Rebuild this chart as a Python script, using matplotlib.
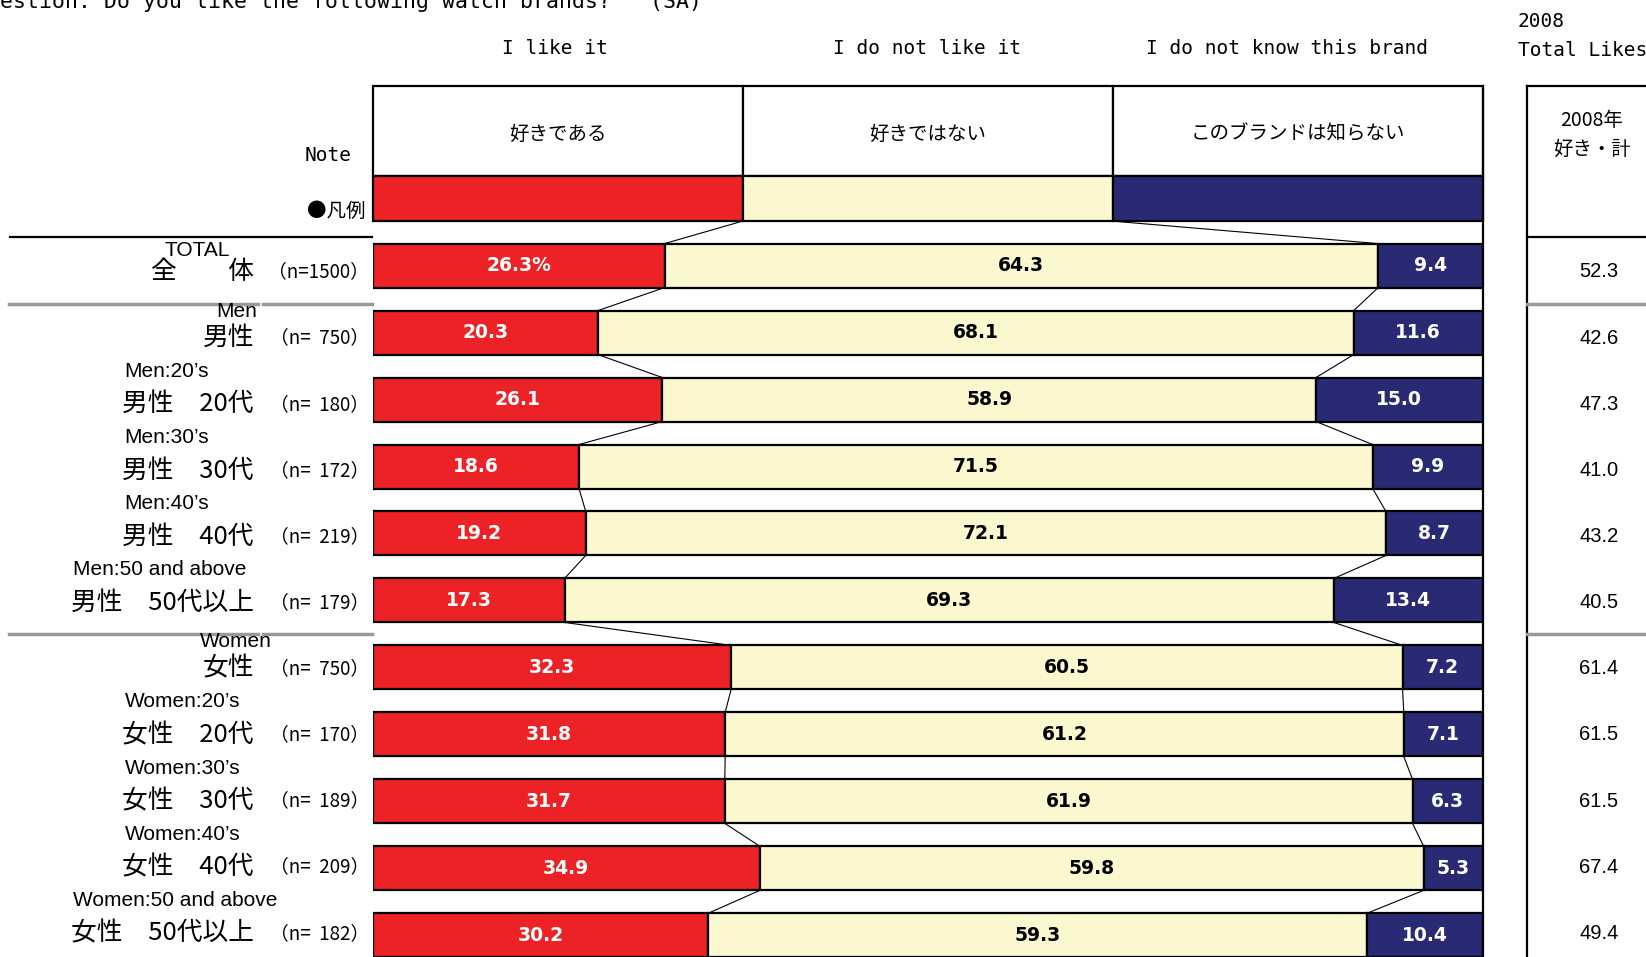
import matplotlib
matplotlib.use("Agg")
from matplotlib import pyplot as plt
import numpy as np

# ---- data ----
groups_en = ["TOTAL", "Men", "Men:20’s", "Men:30’s", "Men:40’s", "Men:50 and above",
             "Women", "Women:20’s", "Women:30’s", "Women:40’s", "Women:50 and above"]
groups_jp = ["全　　体", "男性", "男性　20代", "男性　30代", "男性　40代", "男性　50代以上",
             "女性", "女性　20代", "女性　30代", "女性　40代", "女性　50代以上"]
n_resp = [1500, 750, 180, 172, 219, 179, 750, 170, 189, 209, 182]
like = [26.3, 20.3, 26.1, 18.6, 19.2, 17.3, 32.3, 31.8, 31.7, 34.9, 30.2]
dislike = [64.3, 68.1, 58.9, 71.5, 72.1, 69.3, 60.5, 61.2, 61.9, 59.8, 59.3]
unknown = [9.4, 11.6, 15.0, 9.9, 8.7, 13.4, 7.2, 7.1, 6.3, 5.3, 10.4]
likes_2008 = [52.3, 42.6, 47.3, 41.0, 43.2, 40.5, 61.4, 61.5, 61.5, 67.4, 49.4]
answers_en = ["I like it", "I do not like it", "I do not know this brand"]
answers_jp = ["好きである", "好きではない", "このブランドは知らない"]

colors = ["#ED2226", "#FBF8D0", "#292A73"]
txt_colors = ["white", "black", "white"]
JP = ["Noto Sans CJK JP", "DejaVu Sans"]
EN = ["Liberation Sans", "DejaVu Sans"]
MONO = ["DejaVu Sans Mono"]

# ---- layout (pixels of the 1646x957 picture) ----
W, H = 1646, 957
ROW0, STEP = 265.6, 66.97      # bar rows
LAB0, LSTEP = 272.0, 66.13     # text rows on the left / right table


def r(py):
    return (py - ROW0) / STEP


def lab_y(i, dy=0):
    return r(LAB0 + i * LSTEP + dy)


BAR_H = 44 / STEP
LEG_H = 45 / STEP

fig = plt.figure(figsize=(W / 100, H / 100), dpi=100)
ax = fig.add_axes([372.6 / W, 0, (1482.5 - 372.6) / W, 1])
ax.set_xlim(0, 100)
ax.set_ylim(r(H), r(0))
ax.axis("off")
lab = fig.add_axes([0, 0, 1, 1])
lab.set_xlim(0, W)
lab.set_ylim(r(H), r(0))
lab.axis("off")

n = len(groups_en)
rows = np.arange(n)
vals = np.array([like, dislike, unknown])
shares = vals / vals.sum(axis=0) * 100
ends = np.cumsum(shares, axis=0)
lefts = ends - shares

# header cells + legend row
third = 100 / 3
hdr_mid = (r(86) + r(176)) / 2
ax.barh([hdr_mid] * 3, [third] * 3, left=[0, third, 2 * third], height=r(176) - r(86),
        color="white", edgecolor="black", linewidth=1.6, clip_on=False)
ax.barh([-1] * 3, [third] * 3, left=[0, third, 2 * third], height=LEG_H,
        color=colors, edgecolor="black", linewidth=1.6, clip_on=False, zorder=3)
for k in range(3):
    ax.text(third * (k + 0.5), r(134), answers_jp[k], ha="center", va="center",
            fontsize=14, family=JP)

# stacked bars
for k in range(3):
    ax.barh(rows, shares[k], left=lefts[k], height=BAR_H, color=colors[k],
            edgecolor="black", linewidth=1.6, zorder=3)
    for i in rows:
        s = f"{vals[k, i]:.1f}" + ("%" if (i == 0 and k == 0) else "")
        ax.text(lefts[k, i] + shares[k, i] / 2, i, s, ha="center", va="center",
                color=txt_colors[k], fontsize=13.5, fontweight="bold", family=["DejaVu Sans"],
                zorder=4)

# connector lines between bar boundaries
bounds = np.hstack([np.array([[third], [2 * third]]), ends[:2]])
ys = np.concatenate([[-1], rows])
heights = np.concatenate([[LEG_H], np.full(n, BAR_H)])
for i in range(n):
    for j in range(2):
        ax.plot([bounds[j, i], bounds[j, i + 1]],
                [ys[i] + heights[i] / 2, ys[i + 1] - heights[i + 1] / 2],
                color="black", lw=0.8, zorder=2)

# right edge of chart area
ax.plot([100, 100], [r(86), r(H)], color="black", lw=1.6, clip_on=False, zorder=5)

# title / column headings
lab.text(-26, r(8), "Question: Do you like the following watch brands?   (SA)",
         ha="left", va="baseline", fontsize=15.5, family=MONO)
for x, t in zip([555, 927, 1287], answers_en):
    lab.text(x, r(49), t, ha="center", va="center", fontsize=14, family=MONO)
lab.text(1518, r(22), "2008", ha="left", va="center", fontsize=14, family=MONO)
lab.text(1518, r(51), "Total Likes", ha="left", va="center", fontsize=14, family=MONO)
lab.text(352, r(156), "Note", ha="right", va="center", fontsize=14, family=MONO)
lab.text(366, r(211), "●凡例", ha="right", va="center", fontsize=14, family=JP)

# separators on the left
lab.plot([10, 372], [r(237), r(237)], color="black", lw=1.6)
for py in (304, 634):
    lab.plot([9, 258], [r(py), r(py)], color="0.6", lw=2.5)
    lab.plot([263, 372], [r(py), r(py)], color="0.6", lw=2.5)

# right table
lab.plot([1527, 1527], [r(86), r(H)], color="black", lw=1.6)
lab.plot([1527, W], [r(86), r(86)], color="black", lw=1.6)
lab.plot([1527, W], [r(237), r(237)], color="black", lw=1.6)
for py in (304, 634):
    lab.plot([1527, W], [r(py), r(py)], color="0.6", lw=2.5)
lab.text(1592, r(121), "2008年", ha="center", va="center", fontsize=14, family=JP)
lab.text(1592, r(149), "好き・計", ha="center", va="center", fontsize=14, family=JP)
for i in rows:
    lab.text(1599, lab_y(i), f"{likes_2008[i]:.1f}", ha="center", va="center",
             fontsize=14.5, family=EN)

# row labels
jp_texts = []
for i in rows:
    jp_texts.append(lab.text(254, lab_y(i), groups_jp[i], ha="right", va="center",
                             fontsize=18.5, family=JP))
    num = f"{n_resp[i]:>4}".replace(" ", "  ")
    lab.text(369, lab_y(i), f"（n={num}）", ha="right", va="center",
             fontsize=13.5, family=JP)

fig.canvas.draw()
rend = fig.canvas.get_renderer()
for i in rows:
    bb = jp_texts[i].get_window_extent(rend)
    if i == 0:
        lab.text(197, lab_y(i, -21), groups_en[i], ha="center", va="center",
                 fontsize=15, family=EN)
    elif len(groups_jp[i]) == 2:
        lab.text((bb.x0 + bb.x1) / 2 + 8, lab_y(i, -27), groups_en[i], ha="center",
                 va="center", fontsize=15, family=EN)
    else:
        lab.text(bb.x0 + 2, lab_y(i, -33), groups_en[i], ha="left", va="center",
                 fontsize=15, family=EN)

fig.savefig("out.png", dpi=100)
